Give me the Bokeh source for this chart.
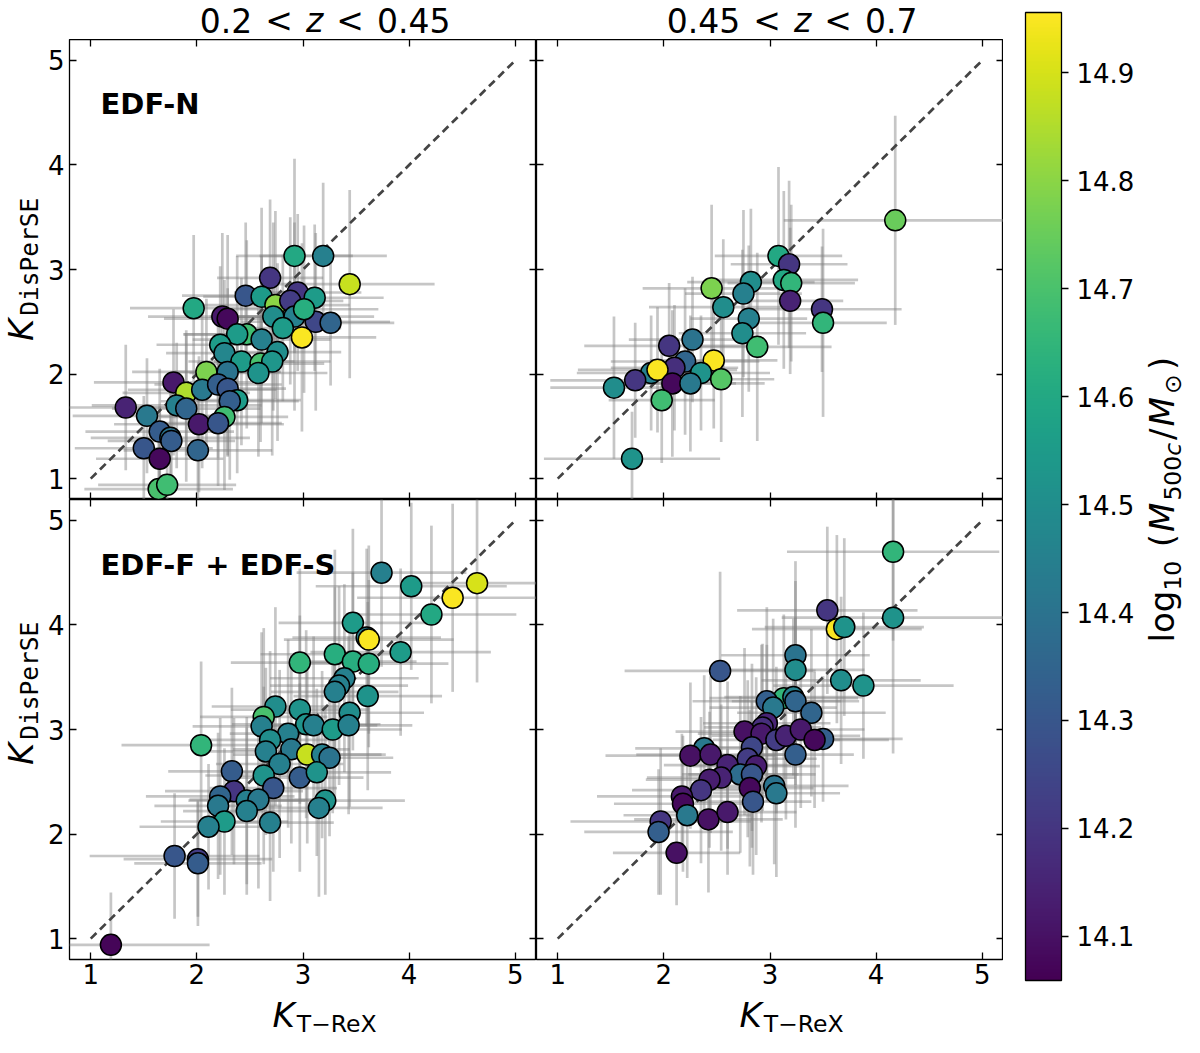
import numpy as np
from bokeh.plotting import figure
from bokeh.models import (ColumnDataSource, Range1d, LinearAxis, FixedTicker, Label,
                          LinearColorMapper, ColorBar, PrintfTickFormatter, GridPlot)
from bokeh.palettes import Viridis256
from bokeh.transform import linear_cmap
from bokeh.embed import file_html
from bokeh.resources import INLINE

# ---------------- data ----------------
MASS_LOW, MASS_HIGH = 14.059, 14.956
axis_ticks = [1, 2, 3, 4, 5]
cbar_ticks = [14.1, 14.2, 14.3, 14.4, 14.5, 14.6, 14.7, 14.8, 14.9]
one_to_one = [1, 5]
row_labels = ["EDF-N", "EDF-F + EDF-S"]

# EDF-N, 0.2 < z < 0.45
tl_x = [2.92, 3.19, 2.69, 3.44, 2.46, 2.61, 2.74, 2.95, 2.88, 3.11, 1.97, 2.24, 2.29, 2.92, 3.12, 3.26, 3.01, 2.72,
        2.81, 2.47, 2.38, 2.61, 2.99, 2.22, 2.26, 2.76, 2.42, 2.60, 2.71, 2.58, 2.09, 2.29, 1.78, 1.90, 2.05, 2.20,
        2.29, 2.38, 2.31, 1.81, 1.90, 1.33, 1.53, 2.26, 2.02, 2.20, 1.65, 1.75, 1.76, 1.50, 2.01, 1.65, 1.64, 1.72]
tl_y = [3.13, 3.13, 2.92, 2.86, 2.75, 2.74, 2.66, 2.78, 2.70, 2.73, 2.63, 2.55, 2.53, 2.55, 2.50, 2.49, 2.62, 2.55,
        2.44, 2.38, 2.38, 2.33, 2.35, 2.28, 2.20, 2.21, 2.12, 2.10, 2.12, 2.01, 2.02, 2.02, 1.92, 1.82, 1.85, 1.90,
        1.86, 1.75, 1.74, 1.70, 1.67, 1.68, 1.60, 1.59, 1.52, 1.53, 1.45, 1.39, 1.36, 1.29, 1.27, 1.19, 0.90, 0.94]
tl_m = [14.60, 14.45, 14.20, 14.88, 14.30, 14.55, 14.80, 14.20, 14.22, 14.55, 14.60, 14.12, 14.08, 14.45, 14.25,
        14.35, 14.62, 14.50, 14.55, 14.68, 14.55, 14.45, 14.95, 14.55, 14.47, 14.50, 14.55, 14.70, 14.53, 14.52,
        14.78, 14.40, 14.12, 14.85, 14.42, 14.33, 14.30, 14.55, 14.33, 14.45, 14.35, 14.15, 14.42, 14.68, 14.12,
        14.30, 14.32, 14.40, 14.32, 14.30, 14.35, 14.08, 14.70, 14.68]
tl_ex = [0.55, 0.60, 0.50, 0.80, 0.60, 0.55, 0.70, 0.60, 0.50, 0.65, 0.60, 0.70, 0.60, 0.75, 0.70, 0.60, 0.70, 0.60,
         0.55, 0.60, 0.50, 0.65, 0.70, 0.60, 0.55, 0.60, 0.50, 0.60, 0.55, 0.65, 0.70, 0.50, 0.75, 0.60, 0.70, 0.60,
         0.55, 0.60, 0.65, 0.80, 0.70, 0.55, 0.70, 0.60, 0.80, 0.60, 0.70, 0.75, 0.60, 0.65, 0.70, 0.60, 0.70, 0.65]
tl_ey = [0.93, 0.70, 0.75, 0.90, 0.70, 0.85, 0.90, 0.75, 0.80, 0.70, 0.70, 0.80, 0.80, 0.90, 0.85, 0.60, 0.80, 0.90,
         0.70, 0.90, 0.75, 0.80, 0.90, 0.75, 0.70, 0.85, 0.80, 0.75, 0.90, 0.80, 0.70, 0.80, 0.70, 0.60, 0.75, 0.70,
         0.65, 0.70, 0.75, 0.60, 0.70, 0.60, 0.55, 0.70, 0.65, 0.60, 0.60, 0.55, 0.50, 0.50, 0.60, 0.50, 0.50, 0.55]

# EDF-N, 0.45 < z < 0.7
tr_x = [4.18, 3.08, 3.18, 3.13, 3.20, 3.19, 2.82, 2.75, 2.45, 2.56, 3.49, 3.50, 2.80, 2.74, 2.88, 2.27, 2.05, 2.47,
        2.20, 2.10, 2.35, 2.54, 1.88, 1.94, 1.73, 2.08, 2.25, 1.53, 1.98, 1.70]
tr_y = [3.47, 3.13, 3.05, 2.90, 2.87, 2.70, 2.88, 2.77, 2.82, 2.64, 2.62, 2.49, 2.53, 2.39, 2.26, 2.33, 2.27, 2.13,
        2.12, 2.06, 2.01, 1.95, 2.01, 2.04, 1.94, 1.91, 1.91, 1.87, 1.75, 1.19]
tr_m = [14.75, 14.60, 14.20, 14.60, 14.65, 14.15, 14.50, 14.45, 14.78, 14.50, 14.20, 14.65, 14.45, 14.50, 14.68,
        14.40, 14.20, 14.95, 14.35, 14.18, 14.52, 14.72, 14.45, 14.95, 14.20, 14.08, 14.42, 14.50, 14.68, 14.52]
tr_ex = [1.05, 0.60, 0.55, 0.70, 0.60, 0.50, 0.60, 0.55, 0.65, 0.70, 0.75, 0.60, 0.55, 0.60, 0.70, 0.60, 0.80, 0.60,
         0.70, 0.60, 0.65, 0.50, 0.70, 0.75, 0.80, 0.60, 0.70, 0.60, 0.50, 0.83]
tr_ey = [1.00, 0.85, 0.80, 0.85, 0.75, 0.70, 0.70, 0.80, 0.80, 0.65, 0.60, 0.90, 0.70, 0.80, 0.90, 0.60, 0.60, 0.65,
         0.70, 0.60, 0.55, 0.60, 0.55, 0.60, 0.55, 0.70, 0.65, 0.68, 0.60, 0.45]

# EDF-F + EDF-S, 0.2 < z < 0.45
bl_x = [3.74, 4.02, 4.41, 4.64, 4.21, 3.47, 3.60, 3.62, 3.92, 3.30, 2.97, 3.47, 3.62, 3.39, 3.34, 3.30, 3.61, 2.74,
        2.97, 2.63, 2.61, 3.03, 3.10, 3.28, 3.44, 3.43, 2.86, 2.69, 2.65, 2.89, 3.04, 3.18, 3.25, 2.78, 2.04, 2.33,
        2.63, 2.97, 3.13, 2.72, 2.35, 2.22, 2.20, 2.47, 2.58, 2.47, 3.21, 3.15, 2.26, 2.11, 2.69, 1.79, 2.01, 2.01,
        1.19]
bl_y = [4.50, 4.37, 4.26, 4.40, 4.10, 4.02, 3.88, 3.86, 3.74, 3.72, 3.64, 3.65, 3.63, 3.49, 3.42, 3.36, 3.32, 3.22,
        3.19, 3.12, 3.03, 3.05, 3.04, 3.00, 3.16, 3.04, 2.96, 2.90, 2.79, 2.81, 2.76, 2.76, 2.73, 2.67, 2.85, 2.60,
        2.56, 2.54, 2.59, 2.44, 2.41, 2.36, 2.27, 2.32, 2.33, 2.22, 2.32, 2.25, 2.12, 2.07, 2.11, 1.79, 1.76, 1.72,
        0.94]
bl_m = [14.45, 14.55, 14.95, 14.90, 14.60, 14.55, 14.45, 14.95, 14.55, 14.62, 14.65, 14.62, 14.62, 14.45, 14.45,
        14.45, 14.52, 14.50, 14.52, 14.70, 14.45, 14.52, 14.45, 14.55, 14.50, 14.45, 14.45, 14.50, 14.45, 14.42,
        14.88, 14.45, 14.40, 14.45, 14.65, 14.32, 14.52, 14.32, 14.52, 14.30, 14.20, 14.35, 14.42, 14.45, 14.42,
        14.45, 14.52, 14.45, 14.55, 14.45, 14.45, 14.30, 14.22, 14.32, 14.07]
bl_ex = [0.80, 0.90, 0.90, 0.60, 0.80, 0.70, 0.70, 0.80, 0.85, 0.70, 0.65, 0.60, 0.75, 0.70, 0.65, 0.60, 0.70, 0.60,
         0.65, 0.60, 0.65, 0.70, 0.60, 0.65, 0.70, 0.60, 0.55, 0.60, 0.65, 0.55, 0.70, 0.60, 0.60, 0.60, 0.75, 0.60,
         0.55, 0.60, 0.70, 0.60, 0.65, 0.70, 0.60, 0.55, 0.65, 0.60, 0.75, 0.60, 0.60, 0.65, 0.60, 0.80, 0.70, 0.60,
         0.93]
bl_ey = [0.90, 0.80, 0.90, 0.95, 0.85, 0.90, 0.85, 0.90, 0.80, 1.00, 0.90, 0.85, 0.80, 0.90, 0.95, 1.00, 0.90, 0.95,
         0.90, 0.85, 0.90, 0.90, 0.85, 0.80, 0.90, 0.85, 0.90, 0.85, 0.80, 0.90, 0.85, 0.80, 0.75, 0.90, 0.80, 0.80,
         0.85, 0.90, 0.80, 0.80, 0.70, 0.75, 0.70, 0.80, 0.85, 0.80, 0.90, 0.85, 0.70, 0.60, 0.75, 0.60, 0.55, 0.60,
         0.50]

# EDF-F + EDF-S, 0.45 < z < 0.7
br_x = [4.16, 4.16, 3.54, 3.63, 3.70, 3.24, 3.24, 2.53, 3.67, 3.88, 3.13, 3.22, 2.97, 3.24, 3.03, 3.39, 2.97, 2.93,
        2.76, 2.92, 3.06, 3.15, 3.29, 3.50, 3.42, 3.24, 2.83, 2.38, 2.25, 2.44, 2.60, 2.79, 2.87, 2.72, 2.83, 2.54,
        2.43, 2.35, 2.81, 3.04, 3.06, 2.84, 2.17, 2.18, 2.22, 2.42, 2.60, 1.97, 1.95, 2.12]
br_y = [4.70, 4.07, 4.14, 3.96, 3.98, 3.71, 3.57, 3.56, 3.47, 3.42, 3.30, 3.31, 3.27, 3.27, 3.21, 3.16, 3.06, 3.02,
        2.98, 2.96, 2.90, 2.94, 3.00, 2.91, 2.90, 2.76, 2.83, 2.82, 2.75, 2.76, 2.66, 2.72, 2.65, 2.57, 2.57, 2.54,
        2.52, 2.42, 2.44, 2.46, 2.39, 2.31, 2.36, 2.29, 2.18, 2.14, 2.21, 2.12, 2.02, 1.82]
br_m = [14.65, 14.52, 14.20, 14.95, 14.52, 14.40, 14.50, 14.30, 14.50, 14.52, 14.65, 14.45, 14.33, 14.35, 14.42,
        14.35, 14.15, 14.18, 14.10, 14.12, 14.22, 14.15, 14.12, 14.33, 14.08, 14.33, 14.25, 14.42, 14.10, 14.12,
        14.15, 14.22, 14.13, 14.38, 14.30, 14.15, 14.13, 14.20, 14.08, 14.40, 14.42, 14.30, 14.12, 14.08, 14.42,
        14.10, 14.12, 14.20, 14.33, 14.10]
br_ex = [1.00, 1.05, 0.85, 0.80, 0.75, 0.70, 0.65, 0.90, 0.75, 0.85, 0.70, 0.65, 0.70, 0.60, 0.60, 0.70, 0.60, 0.55,
         0.65, 0.60, 0.60, 0.70, 0.60, 0.75, 0.70, 0.55, 0.60, 0.65, 0.80, 0.70, 0.60, 0.65, 0.60, 0.55, 0.60, 0.70,
         0.60, 0.65, 0.60, 0.70, 0.60, 0.55, 0.80, 0.65, 0.60, 0.70, 0.65, 0.85, 0.70, 0.60]
br_ey = [0.85, 1.30, 0.80, 0.90, 0.85, 0.90, 0.85, 0.95, 0.80, 0.70, 0.80, 0.75, 0.90, 0.80, 0.85, 0.80, 0.75, 0.80,
         0.80, 0.85, 0.70, 0.80, 0.75, 0.60, 0.65, 0.70, 0.80, 0.70, 0.70, 0.75, 0.80, 0.75, 0.85, 0.75, 0.70, 0.70,
         0.65, 0.70, 0.75, 0.75, 0.80, 0.70, 0.60, 0.65, 0.60, 0.70, 0.60, 0.70, 0.60, 0.50]

# ---------------- style / layout ----------------
FONT = "DejaVu Sans"
MONO = "DejaVu Sans Mono"
FW, FH = 467, 460          # frame size of every panel
YL_W = 44                  # strip for the y labels
TICKB = 22                 # left border of the left panels (tick labels)
TITLE_H = 39               # strip for the column titles
BOTB = 36                  # bottom border of the lower panels (tick labels)
XL_H = 42                  # strip for the x labels
CB_W = 184
TICK_FS = "26px"
LAB_FS = "34px"
SUB_FS = "23.5px"
HALF_PI = np.pi / 2


def style_axis(ax, show_labels, standoff):
    ax.ticker = FixedTicker(ticks=axis_ticks)
    ax.axis_line_color = None
    ax.major_tick_in = 7
    ax.major_tick_out = 0
    ax.major_tick_line_color = "black"
    ax.major_tick_line_width = 1.3
    ax.minor_tick_line_color = None
    ax.major_label_text_font = FONT
    ax.major_label_text_font_size = TICK_FS
    ax.major_label_standoff = standoff
    ax.major_label_text_color = "black" if show_labels else None


def lab(p, x, y, text, size=LAB_FS, style="normal", font=FONT, angle=0.0, align="left"):
    p.add_layout(Label(x=x, y=y, x_units="screen", y_units="screen", text=text,
                       text_font=font, text_font_size=size, text_font_style=style,
                       text_color="black", text_align=align, text_baseline="middle",
                       angle=angle))


def strip(w, h):
    s = figure(width=w, height=h, x_range=Range1d(0, 1), y_range=Range1d(0, 1),
               x_axis_type=None, y_axis_type=None, min_border=0,
               output_backend="svg", toolbar_location=None)
    s.outline_line_color = None
    s.background_fill_color = "white"
    s.border_fill_color = "white"
    return s


def make_panel(xs, ys, ms, exs, eys, left_col, bottom_row):
    p = figure(frame_width=FW, frame_height=FH,
               x_range=Range1d(0.8, 5.2), y_range=Range1d(0.8, 5.2),
               x_axis_type=None, y_axis_type=None,
               output_backend="svg", toolbar_location=None,
               min_border=0,
               min_border_left=TICKB if left_col else 0, min_border_right=0,
               min_border_top=0, min_border_bottom=BOTB if bottom_row else 0)
    p.outline_line_color = "black"
    p.outline_line_width = 1.3
    p.background_fill_color = "white"
    p.border_fill_color = "white"

    ax_l = LinearAxis() if left_col else LinearAxis(fixed_location=0.8)
    style_axis(ax_l, left_col, 5)
    p.add_layout(ax_l, "left")
    ax_r = LinearAxis(fixed_location=5.2)
    style_axis(ax_r, False, 0)
    p.add_layout(ax_r, "right")
    ax_b = LinearAxis() if bottom_row else LinearAxis(fixed_location=0.8)
    style_axis(ax_b, bottom_row, 4)
    p.add_layout(ax_b, "below")
    ax_t = LinearAxis(fixed_location=5.2)
    style_axis(ax_t, False, 0)
    p.add_layout(ax_t, "above")

    x = np.array(xs); y = np.array(ys); ex = np.array(exs); ey = np.array(eys)
    src = ColumnDataSource(dict(x=x, y=y, m=ms, xlo=x - ex, xhi=x + ex, ylo=y - ey, yhi=y + ey))
    p.segment(x0="xlo", y0="y", x1="xhi", y1="y", source=src,
              line_color="gray", line_alpha=0.45, line_width=2.7)
    p.segment(x0="x", y0="ylo", x1="x", y1="yhi", source=src,
              line_color="gray", line_alpha=0.45, line_width=2.7)
    p.line(one_to_one, one_to_one, line_color="#444444", line_width=2.7, line_dash="8 5")
    p.scatter("x", "y", source=src, size=21,
              fill_color=linear_cmap("m", Viridis256, MASS_LOW, MASS_HIGH),
              line_color="black", line_width=1.5)
    return p


tl = make_panel(tl_x, tl_y, tl_m, tl_ex, tl_ey, True, False)
tr = make_panel(tr_x, tr_y, tr_m, tr_ex, tr_ey, False, False)
bl = make_panel(bl_x, bl_y, bl_m, bl_ex, bl_ey, True, True)
br = make_panel(br_x, br_y, br_m, br_ex, br_ey, False, True)

# field labels (inside frames)
lab(tl, 31, 396, row_labels[0], size="29px", style="bold")
lab(bl, 31, 395, row_labels[1], size="29px", style="bold")

# ---- title strip: 0.2 < z < 0.45 | 0.45 < z < 0.7  (z italic)
title = strip(TICKB + 2 * FW, TITLE_H)
TY, TFS = 19.5, "33px"
for (px, s, st) in [(130.2, "0.2", "normal"), (195.7, "<", "normal"), (236.4, "z", "italic"),
                    (266.7, "<", "normal"), (307.4, "0.45", "normal"),
                    (597.2, "0.45", "normal"), (683.7, "<", "normal"), (724.4, "z", "italic"),
                    (754.7, "<", "normal"), (795.4, "0.7", "normal")]:
    lab(title, px, TY, s, size=TFS, style=st)

# ---- y label strips: K_DisPerSE
yl_top = strip(YL_W, FH)
lab(yl_top, 20.2, 158.4, "K", style="italic", angle=HALF_PI)
lab(yl_top, 29.4, 183.7, "DisPerSE", size="24.5px", font=MONO, angle=HALF_PI)
yl_bot = strip(YL_W, FH + BOTB)
lab(yl_bot, 20.2, 158.4 + BOTB, "K", style="italic", angle=HALF_PI)
lab(yl_bot, 29.4, 183.7 + BOTB, "DisPerSE", size="24.5px", font=MONO, angle=HALF_PI)

# ---- x label strip: K_T-ReX under both columns
xl = strip(TICKB + 2 * FW, XL_H)
for off in (0, FW):
    lab(xl, 203 + off, 22.2, "K", style="italic")
    lab(xl, 227.3 + off, 13.8, "T\u2212ReX", size=SUB_FS)

# ---------------- colour bar ----------------
CB_H = TITLE_H + 2 * FH + BOTB + XL_H
cb = strip(CB_W, CB_H)
mapper = LinearColorMapper(palette=Viridis256, low=MASS_LOW, high=MASS_HIGH)
bar = ColorBar(color_mapper=mapper, location=(22, 57), width=36, height=968,
               padding=0, margin=0,
               ticker=FixedTicker(ticks=cbar_ticks), formatter=PrintfTickFormatter(format="%.1f"),
               major_tick_in=0, major_tick_out=7, major_tick_line_color="black",
               major_tick_line_width=1.3, minor_tick_line_color=None,
               major_label_text_font=FONT, major_label_text_font_size=TICK_FS,
               major_label_text_color="black", label_standoff=8,
               bar_line_color="black", bar_line_width=1.3,
               background_fill_color=None, border_line_color=None)
cb.add_layout(bar, "center")

# colour bar label  log10 (M500c / M_sun), rotated
MB, SB = 158.8, 169.0
for (py, s, size, st, base) in [(395.0, "log", LAB_FS, "normal", MB),
                                (446.9, "10", SUB_FS, "normal", SB),
                                (490.3, "(", LAB_FS, "normal", MB),
                                (505.6, "M", LAB_FS, "italic", MB),
                                (536.9, "500", SUB_FS, "normal", SB),
                                (581.7, "c", SUB_FS, "italic", SB),
                                (597.6, "/", LAB_FS, "normal", MB),
                                (611.1, "M", LAB_FS, "italic", MB),
                                (643.4, "\u2299", SUB_FS, "normal", SB),
                                (667.5, ")", LAB_FS, "normal", MB)]:
    lab(cb, base, py, s, size=size, style=st, angle=HALF_PI)

layout = GridPlot(children=[
    (title, 0, 1, 1, 2),
    (yl_top, 1, 0), (tl, 1, 1), (tr, 1, 2),
    (yl_bot, 2, 0), (bl, 2, 1), (br, 2, 2),
    (xl, 3, 1, 1, 2),
    (cb, 0, 3, 4, 1),
], toolbar_location=None)

open("out.html", "w").write(file_html(layout, INLINE))
